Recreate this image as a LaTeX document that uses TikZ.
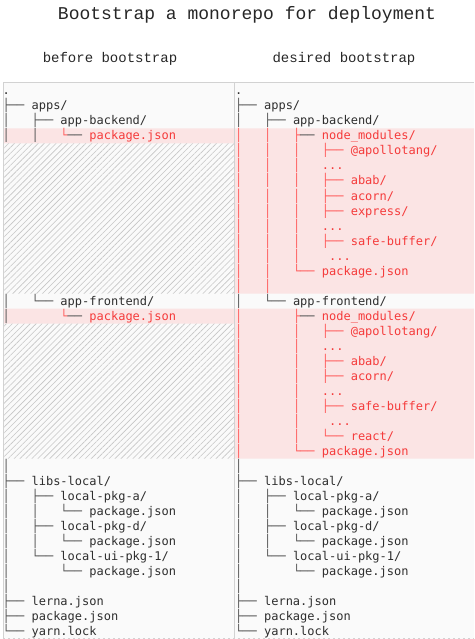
\documentclass[tikz,border=0pt]{standalone}
\usepackage{fontspec}
\usepackage{xcolor}
\usepackage{tikz}
\usetikzlibrary{patterns.meta}
\newfontfamily\treefont{DejaVu Sans Mono}
\newfontfamily\headfont{Liberation Mono}
\definecolor{ink}{HTML}{2E2E2E}
\definecolor{linegray}{HTML}{555555}
\definecolor{redtext}{HTML}{F53B3B}
\definecolor{redline}{HTML}{FF5C5C}
\definecolor{pinkbg}{HTML}{FBE4E4}
\definecolor{panebg}{HTML}{FAFAFA}
\definecolor{border}{HTML}{D2D2D2}
\definecolor{hatch}{HTML}{C6C6C6}
% tree pieces, one character cell each
\newcommand{\pipe}[1][linegray]{\textcolor{#1}{│}~~~}
\newcommand{\gap}{~~~~}
\newcommand{\tee}[1][linegray]{\textcolor{#1}{├──}~}
\newcommand{\elbow}[1][linegray]{\textcolor{#1}{└──}~}
\newcommand{\halftee}[1]{\textcolor{redline}{#1}\textcolor{linegray}{──}~}
\newcommand{\redtxt}[1]{\textcolor{redtext}{#1}}

\begin{document}
\begin{tikzpicture}[
  x=1pt, y=-1pt,
  row/.style={anchor=base west, inner sep=0pt, text=ink, font=\treefont\fontsize{12}{15}\selectfont},
  headline/.style={anchor=base, inner sep=0pt, text=black!85},
  hatched/.style={pattern={Lines[angle=45,distance=4.2pt,line width=0.6pt]}, pattern color=hatch}
]
  \useasboundingbox (0,0) rectangle (474,639);

  % HEADINGS
  \node[headline, font=\headfont\fontsize{18}{18}\selectfont] (title) at (247,20) {Bootstrap a monorepo for deployment};
  \node[headline, font=\headfont\fontsize{14}{14}\selectfont] (before) at (110,63) {before bootstrap};
  \node[headline, font=\headfont\fontsize{14}{14}\selectfont] (desired) at (344,63) {desired bootstrap};

  % PANES: background, changed rows, missing rows
  \fill[panebg] (3,82.5) rectangle (474,639);
  \fill[pinkbg] (3,128.5) rectangle (234,143.5) (3,308.5) rectangle (234,323.5);
  \fill[pinkbg] (235,128.5) rectangle (474,293.5) (235,308.5) rectangle (474,458.5);
  \fill[hatched] (3,143.5) rectangle (234,293.5) (3,323.5) rectangle (234,458.5);
  \draw[border, line width=1pt] (3,639) |- (474,82.5);
  \draw[border, line width=1.5pt] (234.5,82.5) -- (234.5,639);
  \draw[border, line width=0.8pt, dash pattern=on 2pt off 3pt] (3,638) -- (474,638);

  % ROWS shared by both trees
  \foreach \x/\p in {2.5/l, 235/r} {
    \node[row] (\p0) at (\x,95) {.};
    \node[row] (\p1) at (\x,110) {\tee apps/};
    \node[row] (\p2) at (\x,125) {\pipe\tee app-backend/};
    \node[row] (\p14) at (\x,305) {\pipe\elbow app-frontend/};
    \node[row] (\p25) at (\x,470) {\pipe};
    \node[row] (\p26) at (\x,485) {\tee libs-local/};
    \node[row] (\p27) at (\x,500) {\pipe\tee local-pkg-a/};
    \node[row] (\p28) at (\x,515) {\pipe\pipe\elbow package.json};
    \node[row] (\p29) at (\x,530) {\pipe\tee local-pkg-d/};
    \node[row] (\p30) at (\x,545) {\pipe\pipe\elbow package.json};
    \node[row] (\p31) at (\x,560) {\pipe\elbow local-ui-pkg-1/};
    \node[row] (\p32) at (\x,575) {\pipe\gap\elbow package.json};
    \node[row] (\p33) at (\x,590) {\pipe};
    \node[row] (\p34) at (\x,605) {\tee lerna.json};
    \node[row] (\p35) at (\x,620) {\tee package.json};
    \node[row] (\p36) at (\x,635) {\elbow yarn.lock};
  }

  % LEFT: before bootstrap
  \node[row] (l3) at (2.5,140) {\pipe\pipe\halftee{└}\redtxt{package.json}};
  \node[row] (l15) at (2.5,320) {\pipe\gap\halftee{└}\redtxt{package.json}};

  % RIGHT: desired bootstrap, app-backend
  \node[row] (r3) at (235,140) {\pipe[redline]\pipe[redline]\halftee{├}\redtxt{node\_modules/}};
  \node[row] (r4) at (235,155) {\pipe[redline]\pipe[redline]\pipe[redline]\tee[redline]\redtxt{@apollotang/}};
  \node[row] (r5) at (235,170) {\pipe[redline]\pipe[redline]\pipe[redline]\redtxt{...}};
  \node[row] (r6) at (235,185) {\pipe[redline]\pipe[redline]\pipe[redline]\tee[redline]\redtxt{abab/}};
  \node[row] (r7) at (235,200) {\pipe[redline]\pipe[redline]\pipe[redline]\tee[redline]\redtxt{acorn/}};
  \node[row] (r8) at (235,215) {\pipe[redline]\pipe[redline]\pipe[redline]\tee[redline]\redtxt{express/}};
  \node[row] (r9) at (235,230) {\pipe[redline]\pipe[redline]\pipe[redline]\redtxt{...}};
  \node[row] (r10) at (235,245) {\pipe[redline]\pipe[redline]\pipe[redline]\tee[redline]\redtxt{safe-buffer/}};
  \node[row] (r11) at (235,260) {\pipe[redline]\pipe[redline]\pipe[redline]~\redtxt{...}};
  \node[row] (r12) at (235,275) {\pipe[redline]\pipe[redline]\elbow[redline]\redtxt{package.json}};
  \node[row] (r13) at (235,290) {\pipe[redline]\pipe[redline]};

  % RIGHT: desired bootstrap, app-frontend
  \node[row] (r15) at (235,320) {\pipe[redline]\gap\halftee{├}\redtxt{node\_modules/}};
  \node[row] (r16) at (235,335) {\pipe[redline]\gap\pipe[redline]\tee[redline]\redtxt{@apollotang/}};
  \node[row] (r17) at (235,350) {\pipe[redline]\gap\pipe[redline]\redtxt{...}};
  \node[row] (r18) at (235,365) {\pipe[redline]\gap\pipe[redline]\tee[redline]\redtxt{abab/}};
  \node[row] (r19) at (235,380) {\pipe[redline]\gap\pipe[redline]\tee[redline]\redtxt{acorn/}};
  \node[row] (r20) at (235,395) {\pipe[redline]\gap\pipe[redline]\redtxt{...}};
  \node[row] (r21) at (235,410) {\pipe[redline]\gap\pipe[redline]\tee[redline]\redtxt{safe-buffer/}};
  \node[row] (r22) at (235,425) {\pipe[redline]\gap\pipe[redline]~\redtxt{...}};
  \node[row] (r23) at (235,440) {\pipe[redline]\gap\pipe[redline]\elbow[redline]\redtxt{react/}};
  \node[row] (r24) at (235,455) {\pipe[redline]\gap\elbow[redline]\redtxt{package.json}};

\end{tikzpicture}
\end{document}
